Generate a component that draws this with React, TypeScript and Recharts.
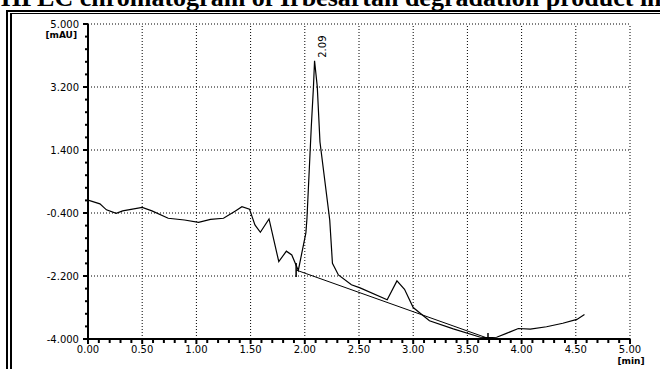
import { LineChart, Line, XAxis, YAxis, ReferenceLine, ReferenceDot } from 'recharts';

// chromatogram trace
const traceTime = [
  0.0, 0.11, 0.17, 0.26, 0.32, 0.5, 0.59, 0.74, 0.89, 1.02, 1.13, 1.25, 1.36, 1.42, 1.49, 1.54,
  1.59, 1.67, 1.76, 1.83, 1.88, 1.94, 2.01, 2.02, 2.06, 2.08, 2.09, 2.115, 2.14, 2.23, 2.255,
  2.31, 2.43, 2.51, 2.76, 2.85, 2.92, 3.0, 3.15, 3.37, 3.62, 3.69, 3.77, 3.86, 3.97, 4.08, 4.23,
  4.38, 4.51, 4.58,
];
const traceMau = [
  -0.03, -0.14, -0.31, -0.41, -0.34, -0.24, -0.34, -0.55, -0.6, -0.67, -0.58, -0.55, -0.34, -0.22,
  -0.29, -0.74, -0.95, -0.57, -1.79, -1.49, -1.6, -2.04, -0.97, -0.55, 2.07, 3.21, 3.95, 3.21,
  1.63, -0.6, -1.84, -2.17, -2.45, -2.54, -2.88, -2.34, -2.58, -3.1, -3.48, -3.71, -3.95, -3.96,
  -3.95, -3.84, -3.7, -3.72, -3.65, -3.55, -3.44, -3.3,
];

// integration baseline under the peak
const baseTime = [1.92, 2.02, 3.69];
const baseMau = [-2.03, -2.14, -3.98];
const baseMarkTime = [1.92, 3.69];
const baseMarkTop = [-1.83, -3.83];
const baseMarkBottom = [-2.23, -4.0];

const peakTime = 2.09;
const peakMau = 3.95;
const peakLabel = '2.09';

const xMajor = [0, 0.5, 1, 1.5, 2, 2.5, 3, 3.5, 4, 4.5, 5];
const xLabels = ['0.00', '0.50', '1.00', '1.50', '2.00', '2.50', '3.00', '3.50', '4.00', '4.50', '5.00'];
const yMajor = [-4, -2.2, -0.4, 1.4, 3.2, 5];
const yLabels = ['-4.000', '-2.200', '-0.400', '1.400', '3.200', '5.000'];

const xMinor = Array.from({ length: 51 }, (_, i) => Math.round(i * 10) / 100);
const yMinor = Array.from({ length: 26 }, (_, i) => Math.round((-4 + i * 0.36) * 100) / 100);

const trace = traceTime.map((t, i) => ({ t, v: traceMau[i] }));
const baseline = baseTime.map((t, i) => ({ t, v: baseMau[i] }));

const tickFont = { fontFamily: 'DejaVu Sans', fontSize: 10, fill: '#000' };
const unitFont = { fontFamily: 'DejaVu Sans', fontSize: 9, fontWeight: 'bold', fill: '#000' };

function findMajor(list: number[], v: number) {
  return list.findIndex((m) => Math.abs(m - v) < 1e-6);
}

function XTick(props: any) {
  const { x, y, payload } = props;
  const idx = findMajor(xMajor, payload.value);
  const len = idx >= 0 ? 5 : 4;
  return (
    <g>
      <line x1={x} x2={x} y1={y} y2={y + len} stroke="#000" strokeWidth={2} />
      {idx >= 0 && (
        <text x={x} y={y + 14} textAnchor="middle" style={tickFont}>
          {xLabels[idx]}
        </text>
      )}
      {idx === xMajor.length - 1 && (
        <text x={x + 1} y={y + 25} textAnchor="middle" style={unitFont}>
          [min]
        </text>
      )}
    </g>
  );
}

function YTick(props: any) {
  const { x, y, payload } = props;
  const idx = findMajor(yMajor, payload.value);
  const len = idx >= 0 ? 5 : 3;
  return (
    <g>
      <line x1={x - len} x2={x} y1={y} y2={y} stroke="#000" strokeWidth={2} />
      {idx >= 0 && (
        <text x={x - 9} y={y + 4} textAnchor="end" style={tickFont}>
          {yLabels[idx]}
        </text>
      )}
      {idx === yMajor.length - 1 && (
        <text x={x - 11} y={y + 14} textAnchor="end" style={unitFont}>
          [mAU]
        </text>
      )}
    </g>
  );
}

export default function App() {
  return (
    <div
      style={{
        position: 'fixed',
        left: 0,
        top: 0,
        width: 660,
        height: 369,
        overflow: 'hidden',
        background: '#fff',
      }}
    >
      <div
        style={{
          position: 'absolute',
          left: 1,
          top: -15,
          whiteSpace: 'nowrap',
          fontFamily: 'Liberation Serif',
          fontWeight: 'bold',
          fontSize: 26,
          lineHeight: '26px',
        }}
      >
        HPLC chromatogram of Irbesartan degradation product in alkaline medium
      </div>
      <div style={{ position: 'absolute', left: 6, top: 10, right: 0, height: 2, background: '#000' }} />
      <div style={{ position: 'absolute', left: 10, top: 13, right: 0, height: 1, background: '#000' }} />
      <div style={{ position: 'absolute', left: 6, top: 10, bottom: 0, width: 2, background: '#000' }} />
      <div style={{ position: 'absolute', left: 10, top: 13, bottom: 0, width: 2, background: '#000' }} />
      <div style={{ position: 'absolute', left: 0, top: 0 }}>
        <LineChart width={660} height={369} margin={{ top: 24, right: 30, left: 0, bottom: 0 }}>
          {xMajor.slice(1).map((v) => (
            <ReferenceLine key={'gx' + v} x={v} stroke="#000" strokeDasharray="1 2" strokeWidth={1} />
          ))}
          {yMajor.slice(1).map((v) => (
            <ReferenceLine key={'gy' + v} y={v} stroke="#000" strokeDasharray="1 2" strokeWidth={1} />
          ))}
          <XAxis
            dataKey="t"
            type="number"
            domain={[0, 5]}
            ticks={xMinor}
            interval={0}
            height={30}
            tickSize={0}
            tickMargin={0}
            tickLine={false}
            axisLine={{ stroke: '#000', strokeWidth: 2 }}
            tick={<XTick />}
            allowDataOverflow
          />
          <YAxis
            type="number"
            domain={[-4, 5]}
            ticks={yMinor}
            interval={0}
            width={88}
            tickSize={0}
            tickMargin={0}
            tickLine={false}
            axisLine={{ stroke: '#000', strokeWidth: 2 }}
            tick={<YTick />}
            allowDataOverflow
          />
          <Line
            data={baseline}
            dataKey="v"
            type="linear"
            stroke="#000"
            strokeWidth={1}
            dot={false}
            isAnimationActive={false}
          />
          <Line
            data={trace}
            dataKey="v"
            type="linear"
            stroke="#000"
            strokeWidth={1.2}
            dot={false}
            isAnimationActive={false}
          />
          {baseMarkTime.map((t, i) => (
            <ReferenceLine
              key={'bm' + i}
              segment={[
                { x: t, y: baseMarkTop[i] },
                { x: t, y: baseMarkBottom[i] },
              ]}
              stroke="#000"
              strokeWidth={1.5}
            />
          ))}
          <ReferenceDot
            x={peakTime}
            y={peakMau}
            r={0}
            shape={(p: any) => (
              <text
                x={p.cx}
                y={p.cy}
                dx={3}
                dy={11}
                transform={`rotate(-90 ${p.cx} ${p.cy})`}
                style={tickFont}
              >
                {peakLabel}
              </text>
            )}
          />
        </LineChart>
      </div>
    </div>
  );
}
